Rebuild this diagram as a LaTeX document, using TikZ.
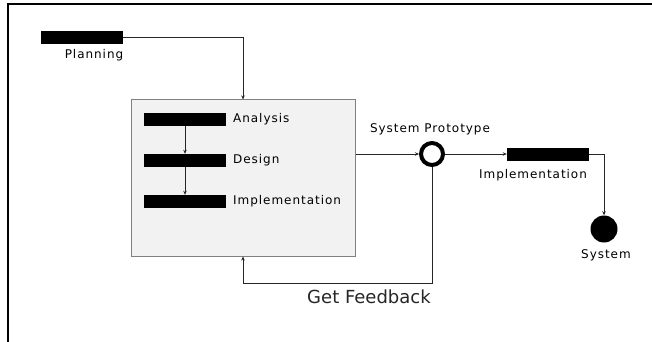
\documentclass[tikz,border=0pt]{standalone}
\usepackage{fontspec}
\setmainfont{DejaVu Sans}
\newfontfamily\lblfont[LetterSpace=8]{DejaVu Sans}
\usetikzlibrary{arrows.meta}
\tikzset{
  bar/.style={fill=black, draw=none, minimum width=82pt, minimum height=13pt, inner sep=0pt},
  lbl/.style={font=\lblfont\fontsize{12}{13}\selectfont, text=black, inner sep=0pt},
  wire/.style={draw=black!85, line width=0.9pt},
  arr/.style={wire, -{Stealth[length=4pt,width=3.5pt]}},
  stage/.style={draw=black!50, line width=1pt, fill=black!5, minimum width=224pt, minimum height=156pt, inner sep=0pt}
}
\begin{document}
\begin{tikzpicture}[x=1pt,y=-1pt]
\useasboundingbox (0,0) rectangle (652,342);
% frame edges
\draw[line width=2.2pt] (7.8,342) -- (7.8,4.4) -- (652,4.4);

% planning
\node[bar] (planbar) at (82,37.5) {};
\node[lbl] (planlbl) at (94,55) {Planning};

% iterative stage
\node[stage] (box) at (243,178) {};
\node[bar] (abar) at (185,119) {};
\node[bar] (dbar) at (185,160.5) {};
\node[bar] (ibar) at (185,201.5) {};
\node[lbl, anchor=west] (alb) at (233,119) {Analysis};
\node[lbl, anchor=west] (dlb) at (233,160.5) {Design};
\node[lbl, anchor=west] (ilb) at (233,201.5) {Implementation};

% prototype
\node[circle, draw=black, line width=4pt, minimum size=22pt, inner sep=0pt, fill=white] (proto) at (432,154) {};
\node[lbl] (protolbl) at (430,129) {System Prototype};

% final implementation and system
\node[bar] (impbar) at (548,154) {};
\node[lbl] (implbl) at (533,175) {Implementation};
\node[circle, fill=black, minimum size=27pt, inner sep=0pt] (sys) at (604,229) {};
\node[lbl] (syslbl) at (606,255) {System};

\coordinate (fb) at (432,283);
\node[font=\fontsize{18}{20}\selectfont, text=black!85, inner sep=0pt] (fblbl) at (369,297) {Get Feedback};

% connectors
\draw[arr] (planbar.east) -| (box.north);
\draw[arr] (abar.south) -- (dbar.north);
\draw[arr] (dbar.south) -- (ibar.north);
\draw[arr] (proto.west -| box.east) -- (proto.west);
\draw[arr] (proto.east) -- (impbar.west);
\draw[arr] (impbar.east) -| (sys.north);
\draw[arr] (proto.south) -- (fb) -| (box.south);
\end{tikzpicture}
\end{document}
